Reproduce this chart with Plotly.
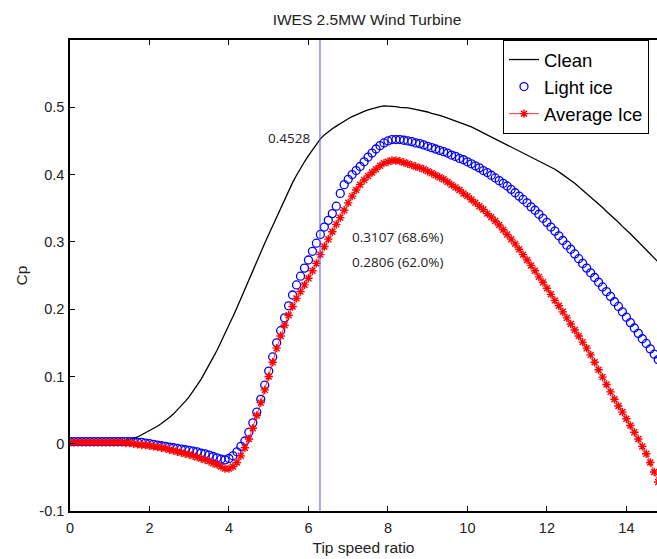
import plotly.graph_objects as go

tsr = [
    0.0, 0.1, 0.2, 0.3, 0.4, 0.5, 0.6, 0.7, 0.8, 0.9,
    1.0, 1.1, 1.2, 1.3, 1.4, 1.5, 1.6, 1.7, 1.8, 1.9,
    2.0, 2.1, 2.2, 2.3, 2.4, 2.5, 2.6, 2.7, 2.8, 2.9,
    3.0, 3.1, 3.2, 3.3, 3.4, 3.5, 3.6, 3.7, 3.8, 3.9,
    4.0, 4.1, 4.2, 4.3, 4.4, 4.5, 4.6, 4.7, 4.8, 4.9,
    5.0, 5.1, 5.2, 5.3, 5.4, 5.5, 5.6, 5.7, 5.8, 5.9,
    6.0, 6.1, 6.2, 6.3, 6.4, 6.5, 6.6, 6.7, 6.8, 6.9,
    7.0, 7.1, 7.2, 7.3, 7.4, 7.5, 7.6, 7.7, 7.8, 7.9,
    8.0, 8.1, 8.2, 8.3, 8.4, 8.5, 8.6, 8.7, 8.8, 8.9,
    9.0, 9.1, 9.2, 9.3, 9.4, 9.5, 9.6, 9.7, 9.8, 9.9,
    10.0, 10.1, 10.2, 10.3, 10.4, 10.5, 10.6, 10.7, 10.8, 10.9,
    11.0, 11.1, 11.2, 11.3, 11.4, 11.5, 11.6, 11.7, 11.8, 11.9,
    12.0, 12.1, 12.2, 12.3, 12.4, 12.5, 12.6, 12.7, 12.8, 12.9,
    13.0, 13.1, 13.2, 13.3, 13.4, 13.5, 13.6, 13.7, 13.8, 13.9,
    14.0, 14.1, 14.2, 14.3, 14.4, 14.5, 14.6, 14.7, 14.8,
]

cp_clean = [
    0.003, 0.003, 0.003, 0.003, 0.003, 0.004, 0.004, 0.004, 0.004, 0.004,
    0.004, 0.004, 0.004, 0.004, 0.005, 0.006, 0.008, 0.010, 0.013, 0.016,
    0.019, 0.022, 0.026, 0.030, 0.034, 0.039, 0.044, 0.050, 0.056, 0.063,
    0.070, 0.078, 0.087, 0.096, 0.106, 0.117, 0.128, 0.139, 0.151, 0.163,
    0.176, 0.189, 0.202, 0.216, 0.230, 0.244, 0.258, 0.272, 0.285, 0.298,
    0.311, 0.324, 0.337, 0.350, 0.363, 0.376, 0.388, 0.399, 0.410, 0.419,
    0.428, 0.437, 0.445, 0.453, 0.459, 0.464, 0.468, 0.472, 0.476, 0.479,
    0.483, 0.486, 0.489, 0.492, 0.494, 0.496, 0.498, 0.500, 0.501, 0.502,
    0.502, 0.502, 0.501, 0.500, 0.500, 0.499, 0.498, 0.497, 0.496, 0.494,
    0.493, 0.491, 0.490, 0.488, 0.486, 0.484, 0.482, 0.480, 0.478, 0.476,
    0.474, 0.471, 0.468, 0.465, 0.462, 0.459, 0.456, 0.453, 0.450, 0.447,
    0.444, 0.441, 0.438, 0.436, 0.433, 0.430, 0.427, 0.424, 0.421, 0.418,
    0.415, 0.412, 0.408, 0.404, 0.400, 0.396, 0.391, 0.387, 0.382, 0.377,
    0.372, 0.367, 0.362, 0.356, 0.351, 0.345, 0.340, 0.334, 0.329, 0.323,
    0.318, 0.312, 0.306, 0.300, 0.294, 0.288, 0.282, 0.276, 0.270,
]

cp_light = [
    0.003, 0.003, 0.003, 0.003, 0.003, 0.003, 0.003, 0.003, 0.003, 0.003,
    0.003, 0.003, 0.003, 0.003, 0.003, 0.003, 0.003, 0.002, 0.002, 0.001,
    0.000, -0.001, -0.002, -0.003, -0.004, -0.005, -0.006, -0.007, -0.008, -0.009,
    -0.010, -0.011, -0.012, -0.014, -0.015, -0.017, -0.019, -0.021, -0.023, -0.024,
    -0.022, -0.018, -0.012, -0.004, 0.004, 0.017, 0.031, 0.047, 0.066, 0.087,
    0.108, 0.129, 0.150, 0.168, 0.187, 0.205, 0.221, 0.236, 0.249, 0.261,
    0.273, 0.286, 0.298, 0.311, 0.322, 0.332, 0.342, 0.353, 0.372, 0.385,
    0.393, 0.400, 0.406, 0.412, 0.419, 0.426, 0.432, 0.438, 0.443, 0.447,
    0.450, 0.452, 0.452, 0.452, 0.451, 0.450, 0.449, 0.447, 0.446, 0.444,
    0.442, 0.440, 0.438, 0.436, 0.434, 0.432, 0.429, 0.427, 0.424, 0.422,
    0.419, 0.416, 0.413, 0.410, 0.406, 0.403, 0.399, 0.395, 0.391, 0.387,
    0.383, 0.378, 0.373, 0.368, 0.363, 0.358, 0.352, 0.347, 0.341, 0.335,
    0.329, 0.322, 0.316, 0.309, 0.302, 0.295, 0.289, 0.282, 0.275, 0.268,
    0.261, 0.254, 0.247, 0.240, 0.233, 0.226, 0.219, 0.211, 0.204, 0.196,
    0.188, 0.180, 0.172, 0.164, 0.156, 0.149, 0.141, 0.133, 0.125,
]

cp_average = [
    0.002, 0.002, 0.002, 0.002, 0.002, 0.002, 0.002, 0.002, 0.002, 0.002,
    0.002, 0.002, 0.002, 0.002, 0.001, 0.001, 0.000, -0.001, -0.002, -0.002,
    -0.003, -0.004, -0.005, -0.006, -0.007, -0.009, -0.010, -0.012, -0.013, -0.015,
    -0.016, -0.018, -0.020, -0.022, -0.024, -0.026, -0.029, -0.031, -0.034, -0.037,
    -0.037, -0.034, -0.028, -0.018, -0.006, 0.007, 0.023, 0.042, 0.061, 0.080,
    0.100, 0.121, 0.142, 0.160, 0.176, 0.191, 0.204, 0.216, 0.226, 0.236,
    0.246, 0.257, 0.268, 0.281, 0.293, 0.304, 0.315, 0.326, 0.336, 0.347,
    0.358, 0.368, 0.377, 0.385, 0.392, 0.398, 0.403, 0.408, 0.413, 0.417,
    0.419, 0.421, 0.421, 0.420, 0.418, 0.416, 0.414, 0.412, 0.410, 0.408,
    0.405, 0.402, 0.399, 0.396, 0.393, 0.389, 0.385, 0.381, 0.377, 0.372,
    0.368, 0.363, 0.358, 0.353, 0.348, 0.342, 0.337, 0.331, 0.325, 0.318,
    0.311, 0.304, 0.297, 0.289, 0.281, 0.273, 0.265, 0.257, 0.248, 0.240,
    0.231, 0.222, 0.213, 0.205, 0.196, 0.187, 0.178, 0.169, 0.160, 0.151,
    0.142, 0.132, 0.121, 0.110, 0.099, 0.088, 0.077, 0.066, 0.056, 0.047,
    0.037, 0.027, 0.017, 0.007, -0.004, -0.015, -0.028, -0.042, -0.057,
]

# operating point marker
lambda_opt = 6.29
cp_opt_clean = 0.4528
cp_opt_light = 0.3107
cp_opt_average = 0.2806

x_ticks = [0, 2, 4, 6, 8, 10, 12, 14]
y_ticks = [-0.1, 0, 0.1, 0.2, 0.3, 0.4, 0.5]
y_tick_text = ["-0.1", "0", "0.1", "0.2", "0.3", "0.4", "0.5"]

FONT = "Liberation Sans, Arial, Helvetica, sans-serif"
ANN_FONT = "Open Sans, Noto Sans, sans-serif"

W, H = 657, 559
ML, MT, MB = 70, 40, 48
PLOT_W = W - ML

fig = go.Figure()
fig.add_trace(go.Scatter(
    x=tsr, y=cp_clean, mode="lines", name="Clean",
    line=dict(color="black", width=1.3),
))
fig.add_trace(go.Scatter(
    x=tsr, y=cp_light, mode="markers", name="Light ice",
    marker=dict(symbol="circle-open", size=8, color="#0000ff",
                line=dict(color="#0000ff", width=1.3)),
))
fig.add_trace(go.Scatter(
    x=tsr, y=cp_average, mode="lines+markers", name="Average Ice",
    line=dict(color="#ff0000", width=0.8),
    marker=dict(symbol="asterisk-open", size=7, color="#ff0000",
                line=dict(color="#ff0000", width=1.4)),
))

fig.add_shape(type="line", xref="x", yref="paper",
              x0=lambda_opt, x1=lambda_opt, y0=0, y1=1,
              line=dict(color="#5050ff", width=1))

fig.add_annotation(x=6.09, y=0.455, xref="x", yref="y",
                   text=f"{cp_opt_clean:.4f}", showarrow=False,
                   xanchor="right", yanchor="middle",
                   font=dict(family=ANN_FONT, size=13.5, color="#222222"))
fig.add_annotation(x=7.05, y=0.307, xref="x", yref="y",
                   text=f"{cp_opt_light:.4f} ({cp_opt_light / cp_opt_clean * 100:.1f}%)",
                   showarrow=False, xanchor="left", yanchor="middle",
                   font=dict(family=ANN_FONT, size=13.5, color="#222222"))
fig.add_annotation(x=7.05, y=0.270, xref="x", yref="y",
                   text=f"{cp_opt_average:.4f} ({cp_opt_average / cp_opt_clean * 100:.1f}%)",
                   showarrow=False, xanchor="left", yanchor="middle",
                   font=dict(family=ANN_FONT, size=13.5, color="#222222"))

fig.update_layout(
    width=W, height=H,
    margin=dict(l=ML, r=0, t=MT, b=MB, autoexpand=False),
    paper_bgcolor="white", plot_bgcolor="white",
    font=dict(family=FONT, size=14.5, color="black"),
    title=dict(text="IWES 2.5MW Wind Turbine", x=367 / W, xanchor="center",
               y=1 - 20 / H, yanchor="middle",
               font=dict(family=FONT, size=15.5, color="#222222")),
    showlegend=True,
    legend=dict(x=(503 - ML) / PLOT_W, y=1, xanchor="left", yanchor="top",
                bgcolor="white", bordercolor="black", borderwidth=1,
                font=dict(family=FONT, size=18.5, color="black"),
                tracegroupgap=0, itemwidth=30),
)
fig.update_xaxes(
    range=[0, 14.77], tickvals=x_ticks, ticks="inside", ticklen=5,
    tickwidth=1, tickcolor="black", showline=True, linecolor="black",
    linewidth=1.5, mirror="ticks", showgrid=False, zeroline=False,
    automargin=False, ticklabelstandoff=3,
    title=dict(text="Tip speed ratio", standoff=7,
               font=dict(family=FONT, size=15.5, color="#222222")),
    tickfont=dict(family=FONT, size=14.5, color="#222222"),
)
fig.update_yaxes(
    range=[-0.1, 0.6], tickvals=y_ticks, ticktext=y_tick_text,
    ticks="inside", ticklen=5, tickwidth=1, tickcolor="black",
    showline=True, linecolor="black", linewidth=1.5, mirror=False,
    showgrid=False, zeroline=False, ticklabelstandoff=1, automargin=False,
    title=dict(text="Cp", standoff=8,
               font=dict(family=FONT, size=15.5, color="#222222")),
    tickfont=dict(family=FONT, size=14.5, color="#222222"),
)

fig.write_html(
    "out.html",
    config={"displayModeBar": False},
    post_script="document.body.style.margin='0px';document.body.style.overflow='hidden';",
)
